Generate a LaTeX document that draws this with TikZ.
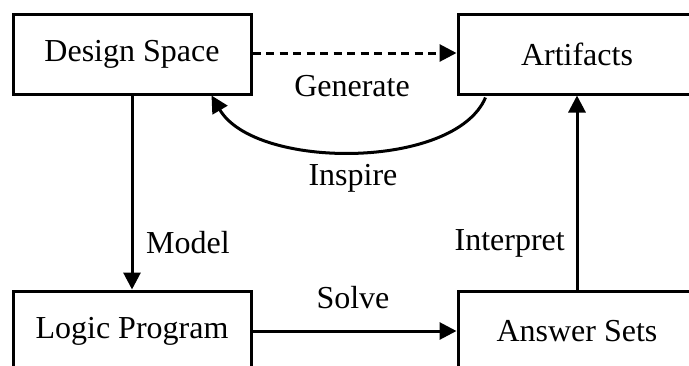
\documentclass[tikz,border=0pt]{standalone}
\usepackage{fontspec}
\setmainfont{Liberation Serif}
\usetikzlibrary{arrows.meta,calc}

\tikzset{
  box/.style={draw, line width=3pt, minimum width=238pt, minimum height=80pt,
    inner sep=0pt, font=\fontsize{32}{36}\selectfont},
  lbl/.style={font=\fontsize{32}{36}\selectfont, inner sep=0pt},
  flow/.style={line width=3pt, -{Triangle[length=17pt,width=17pt]}},
  dashflow/.style={flow, dash pattern=on 8pt off 5.5pt},
}

\begin{document}
\begin{tikzpicture}[x=1pt, y=-1pt]
  \clip (0,0) rectangle (689,365);
  \fill[white] (0,0) rectangle (689,365);

  % the four stages
  \node[box] (ds) at (132,54)  {Design Space};
  \node[box] (ar) at (577,54)  {Artifacts};
  \node[box] (lp) at (132,331) {Logic Program};
  \node[box] (as) at (577,331) {Answer Sets};

  % connectors
  \draw[dashflow] (ds.east |- 0,53) -- (ar.west |- 0,53);
  \draw[flow] (ds) -- (lp);
  \draw[flow] (lp) -- (as);
  \draw[flow] (as) -- (ar);
  \draw[flow] ($(ar.south west)+(29,2)$) .. controls (455,170) and (255,170)
    .. ($(ds.south east)+(-41,0)$);

  % labels
  \node[lbl] (gen) at (352,86)  {Generate};
  \node[lbl] (ins) at (353,178) {Inspire};
  \node[lbl, anchor=west] (mod) at (146,243) {Model};
  \node[lbl, anchor=east] (int) at (565,243) {Interpret};
  \node[lbl] (sol) at (353,298) {Solve};
\end{tikzpicture}
\end{document}
